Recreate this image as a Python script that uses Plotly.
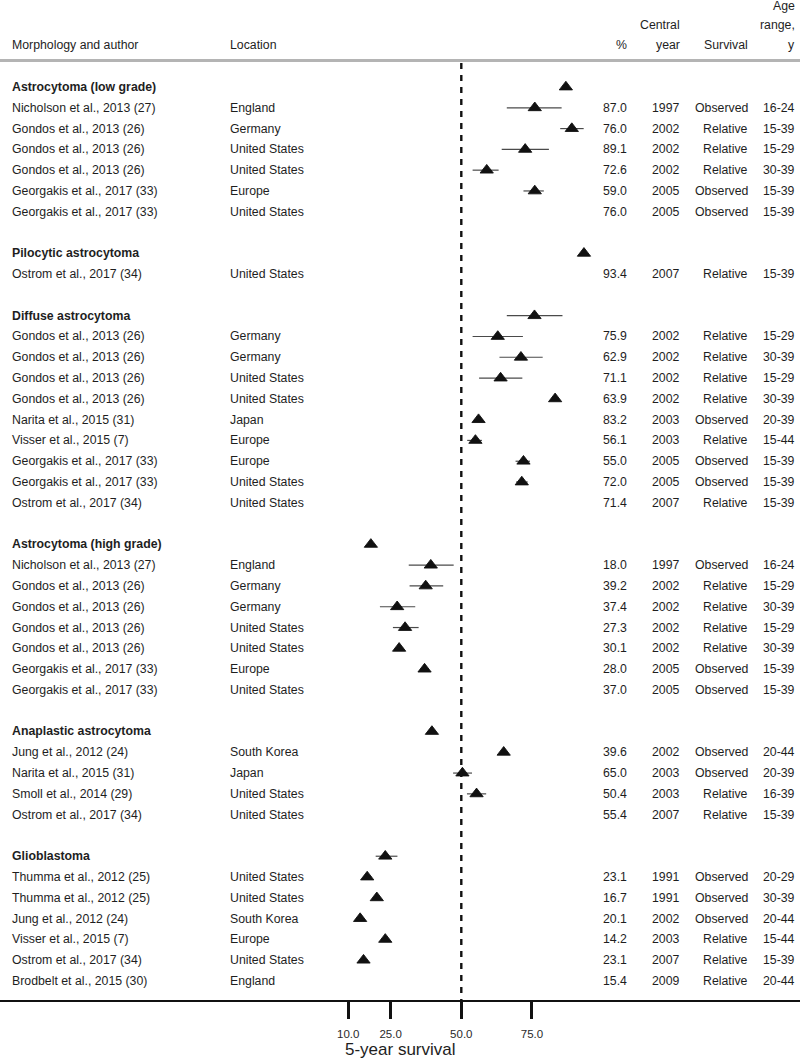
import plotly.graph_objects as go

# ---------------- data ----------------
group_names = ["Astrocytoma (low grade)", "Pilocytic astrocytoma", "Diffuse astrocytoma",
               "Astrocytoma (high grade)", "Anaplastic astrocytoma", "Glioblastoma"]
group_sizes = [6, 1, 9, 7, 4, 6]

authors = [
    "Nicholson et al., 2013 (27)", "Gondos et al., 2013 (26)", "Gondos et al., 2013 (26)",
    "Gondos et al., 2013 (26)", "Georgakis et al., 2017 (33)", "Georgakis et al., 2017 (33)",
    "Ostrom et al., 2017 (34)",
    "Gondos et al., 2013 (26)", "Gondos et al., 2013 (26)", "Gondos et al., 2013 (26)",
    "Gondos et al., 2013 (26)", "Narita et al., 2015 (31)", "Visser et al., 2015 (7)",
    "Georgakis et al., 2017 (33)", "Georgakis et al., 2017 (33)", "Ostrom et al., 2017 (34)",
    "Nicholson et al., 2013 (27)", "Gondos et al., 2013 (26)", "Gondos et al., 2013 (26)",
    "Gondos et al., 2013 (26)", "Gondos et al., 2013 (26)", "Georgakis et al., 2017 (33)",
    "Georgakis et al., 2017 (33)",
    "Jung et al., 2012 (24)", "Narita et al., 2015 (31)", "Smoll et al., 2014 (29)",
    "Ostrom et al., 2017 (34)",
    "Thumma et al., 2012 (25)", "Thumma et al., 2012 (25)", "Jung et al., 2012 (24)",
    "Visser et al., 2015 (7)", "Ostrom et al., 2017 (34)", "Brodbelt et al., 2015 (30)",
]
locations = [
    "England", "Germany", "United States", "United States", "Europe", "United States",
    "United States",
    "Germany", "Germany", "United States", "United States", "Japan", "Europe", "Europe",
    "United States", "United States",
    "England", "Germany", "Germany", "United States", "United States", "Europe", "United States",
    "South Korea", "Japan", "United States", "United States",
    "United States", "United States", "South Korea", "Europe", "United States", "England",
]
pct = [87.0, 76.0, 89.1, 72.6, 59.0, 76.0,
       93.4,
       75.9, 62.9, 71.1, 63.9, 83.2, 56.1, 55.0, 72.0, 71.4,
       18.0, 39.2, 37.4, 27.3, 30.1, 28.0, 37.0,
       39.6, 65.0, 50.4, 55.4,
       23.1, 16.7, 20.1, 14.2, 23.1, 15.4]
years = [1997, 2002, 2002, 2002, 2005, 2005,
         2007,
         2002, 2002, 2002, 2002, 2003, 2003, 2005, 2005, 2007,
         1997, 2002, 2002, 2002, 2002, 2005, 2005,
         2002, 2003, 2003, 2007,
         1991, 1991, 2002, 2003, 2007, 2009]
survival = ["Observed", "Relative", "Relative", "Relative", "Observed", "Observed",
            "Relative",
            "Relative", "Relative", "Relative", "Relative", "Observed", "Relative", "Observed",
            "Observed", "Relative",
            "Observed", "Relative", "Relative", "Relative", "Relative", "Observed", "Observed",
            "Observed", "Observed", "Relative", "Relative",
            "Observed", "Observed", "Observed", "Relative", "Relative", "Relative"]
age_range = ["16-24", "15-39", "15-29", "30-39", "15-39", "15-39",
             "15-39",
             "15-29", "30-39", "15-29", "30-39", "20-39", "15-44", "15-39", "15-39", "15-39",
             "16-24", "15-29", "30-39", "15-29", "30-39", "15-39", "15-39",
             "20-44", "20-39", "16-39", "15-39",
             "20-29", "30-39", "20-44", "15-44", "15-39", "20-44"]
ci_low = [None, 66.1, 85.0, 64.3, 54.0, 72.0,
          None,
          66.1, 54.0, 63.5, 56.3, None, 54.6, 52.1, 69.2, 69.4,
          None, 31.4, 31.7, 21.2, 25.8, 26.5, 35.5,
          None, None, 47.1, 52.0,
          19.7, 15.2, None, None, 21.6, None]
ci_high = [None, 85.5, 93.3, 81.0, 63.2, 79.2,
           None,
           85.8, 71.8, 78.8, 71.6, None, 57.6, 57.3, 74.3, 73.5,
           None, 47.3, 43.6, 33.7, 34.9, 29.5, 38.5,
           None, None, 53.8, 58.8,
           27.4, 18.2, None, None, 24.6, None]

x_ticks = [10, 25, 50, 75]
ref_value = 50
x_title = "5-year survival"

# ---------------- layout of rows ----------------
header_rows, study_rows = [], []
r = 0
for gi, n in enumerate(group_sizes):
    header_rows.append(r)
    r += 1
    for _ in range(n):
        study_rows.append(r)
        r += 1
    r += 1  # blank row

W, H = 800, 1064
PLOT_BOTTOM = 1000
row0_px, row_step = 87.0, 20.79
y_top = -row0_px / row_step
y_bot = (PLOT_BOTTOM - row0_px) / row_step
px_per_unit = 2.826
x0_px = 320.0
x_left = -x0_px / px_per_unit
x_right = (W - x0_px) / px_per_unit

FONT = "Liberation Sans, Arial, sans-serif"
TXT = "#1e1e1e"
FS = 12.3

fig = go.Figure()

# markers (drawn one row above the study label, as in the source)
mk_y = [sr - 1 for sr in study_rows]
plus = [(h - v) if h is not None else 0 for v, h in zip(pct, ci_high)]
minus = [(v - l) if l is not None else 0 for v, l in zip(pct, ci_low)]
fig.add_trace(go.Scatter(
    x=pct, y=mk_y, mode="markers",
    marker=dict(symbol="triangle-up", size=11.5, color="#111111",
                line=dict(color="#111111", width=0.9)),
    error_x=dict(type="data", symmetric=False, array=plus, arrayminus=minus,
                 color="#4a4a4a", thickness=1.2, width=0),
    hoverinfo="skip", showlegend=False,
))

ann = []
def px(xp):
    return xp / W

def add_text(x_pixel, y_row, text, anchor="left", bold=False, size=FS):
    ann.append(dict(x=px(x_pixel), xref="paper", y=y_row, yref="y",
                    text=("<b>%s</b>" % text) if bold else text,
                    showarrow=False, xanchor=anchor, yanchor="middle",
                    font=dict(family=FONT, size=size, color=TXT)))

COL_AUTH, COL_LOC, COL_PCT, COL_YEAR, COL_SURV, COL_AGE = 10, 228, 629, 682, 750, 797

# column headers
add_text(COL_AUTH, -2, "Morphology and author")
add_text(COL_LOC, -2, "Location")
add_text(COL_PCT, -2, "%", "right")
add_text(COL_YEAR, -3, "Central", "right")
add_text(COL_YEAR, -2, "year", "right")
add_text(COL_SURV, -2, "Survival", "right")
add_text(COL_AGE, (6 - row0_px) / row_step, "Age", "right")
add_text(COL_AGE, -3, "range,", "right")
add_text(COL_AGE, -2, "y", "right")

for g, hr in zip(group_names, header_rows):
    add_text(COL_AUTH, hr, g, bold=True)

for i, sr in enumerate(study_rows):
    add_text(COL_AUTH, sr, authors[i])
    add_text(COL_LOC, sr, locations[i])
    add_text(COL_PCT, sr, "%.1f" % pct[i], "right")
    add_text(COL_YEAR, sr, str(years[i]), "right")
    add_text(COL_SURV, sr, survival[i], "right")
    add_text(COL_AGE, sr, age_range[i], "right")

# axis title
ann.append(dict(x=px(400), xref="paper", y=0, yref="paper", text=x_title,
                showarrow=False, xanchor="center", yanchor="middle",
                yshift=-(1049 - PLOT_BOTTOM),
                font=dict(family=FONT, size=17, color=TXT)))

header_line_row = (60.5 - row0_px) / row_step
shapes = [
    dict(type="line", xref="paper", x0=0, x1=1, yref="y", y0=header_line_row, y1=header_line_row,
         line=dict(color="#b4b4b4", width=3)),
    dict(type="line", xref="x", x0=ref_value, x1=ref_value, yref="y",
         y0=header_line_row + 0.12, y1=y_bot,
         line=dict(color="#111111", width=2.4, dash="6px,6px")),
]

fig.update_layout(
    width=W, height=H,
    margin=dict(l=0, r=0, t=0, b=H - PLOT_BOTTOM, pad=0),
    paper_bgcolor="white", plot_bgcolor="white",
    annotations=ann, shapes=shapes,
    font=dict(family=FONT, color=TXT),
    xaxis=dict(range=[x_left, x_right], showgrid=False, zeroline=False,
               showline=True, linecolor="#111111", linewidth=2.2,
               ticks="outside", ticklen=17, tickwidth=2.6, tickcolor="#111111",
               tickvals=x_ticks, tickformat=".1f",
               tickfont=dict(family=FONT, size=11.5, color="#2a2a2a"),
               ticklabelstandoff=5, fixedrange=True),
    yaxis=dict(range=[y_bot, y_top], visible=False, showgrid=False, zeroline=False, fixedrange=True),
    showlegend=False,
)

fig.write_html("out.html", config={"displayModeBar": False},
               post_script="document.body.style.margin='0';document.body.style.overflow='hidden';")
